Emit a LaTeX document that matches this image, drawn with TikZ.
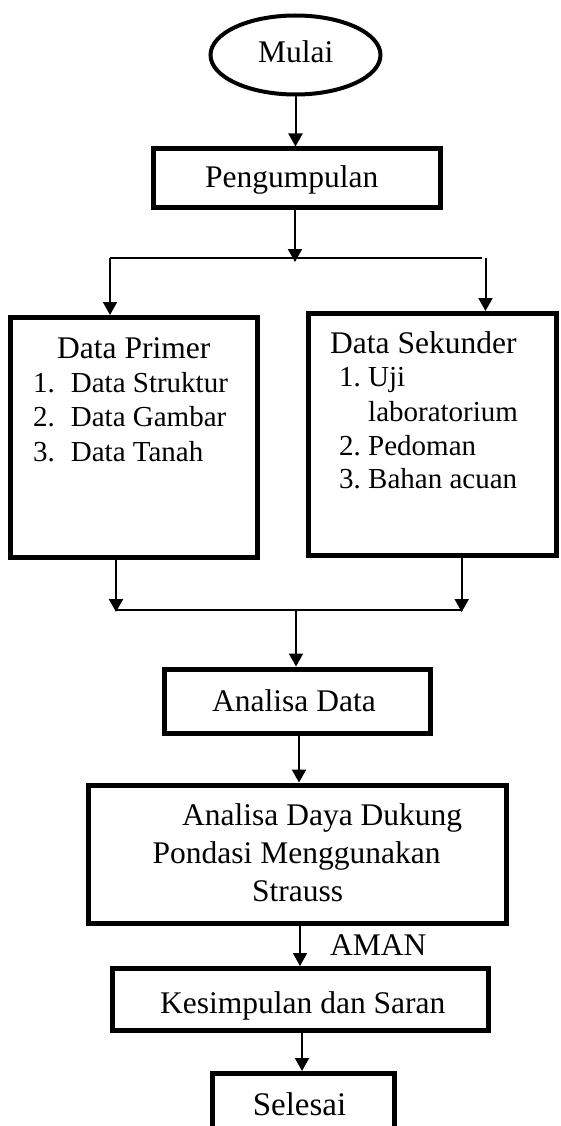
\documentclass[tikz,border=0pt]{standalone}
\usepackage{fontspec}
\setmainfont{Liberation Serif}
\usetikzlibrary{arrows.meta,shapes.geometric}
\tikzset{
  boxst/.style={draw, rectangle, line width=5pt, inner sep=0pt},
  ovalst/.style={draw, ellipse, line width=4pt, inner sep=0pt},
  txt/.style={inner sep=0pt, anchor=base west, font=\fontsize{31.5}{34}\selectfont},
  txts/.style={inner sep=0pt, anchor=base west, font=\fontsize{29}{34}\selectfont},
  arr/.style={line width=2pt, -{Triangle[length=13pt,width=14pt]}},
  ln/.style={line width=1.6pt},
}
\begin{document}
\begin{tikzpicture}[x=1pt,y=-1pt]
\useasboundingbox (0,0) rectangle (560,1126);
\clip (0,0) rectangle (560,1126);
% shapes
\node[ovalst, minimum width=170pt, minimum height=79pt] (mulai) at (295.5,55) {};
\node[boxst, minimum width=287pt, minimum height=58.5pt] (peng) at (296.5,178.25) {};
\node[boxst, minimum width=246.7pt, minimum height=240pt] (prim) at (134.15,437.5) {};
\node[boxst, minimum width=247.5pt, minimum height=241.5pt] (sek) at (432.25,434.25) {};
\node[boxst, minimum width=266.5pt, minimum height=64.5pt] (ad) at (297.25,701.25) {};
\node[boxst, minimum width=417.8pt, minimum height=138.3pt] (big) at (297.3,854.2) {};
\node[boxst, minimum width=376pt, minimum height=62pt] (kes) at (300.5,999.5) {};
\node[boxst, minimum width=181.5pt, minimum height=62pt] (sel) at (303.25,1104.5) {};
% texts
\node[txt] (tmulai) at (258,63) {Mulai};
\node[txt] (tpeng) at (205,188) {Pengumpulan};
\node[txt] (tprim) at (57,358.3) {Data Primer};
\node[txts] (p1n) at (33,392.7) {1.};
\node[txts] (p1) at (70.7,392.7) {Data Struktur};
\node[txts] (p2n) at (33,426.7) {2.};
\node[txts] (p2) at (70.7,426.7) {Data Gambar};
\node[txts] (p3n) at (33,461) {3.};
\node[txts] (p3) at (70.7,461) {Data Tanah};
\node[txt] (tsek) at (330,353.3) {Data Sekunder};
\node[txts] (s1n) at (339,386.7) {1.};
\node[txts] (s1) at (368,386.7) {Uji};
\node[txts] (s1b) at (368,421.7) {laboratorium};
\node[txts] (s2n) at (339,455) {2.};
\node[txts] (s2) at (368,455) {Pedoman};
\node[txts] (s3n) at (339,488.3) {3.};
\node[txts] (s3) at (368,488.3) {Bahan acuan};
\node[txt] (tad) at (212,711) {Analisa Data};
\node[txt] (tb1) at (182,825) {Analisa Daya Dukung};
\node[txt] (tb2) at (152.5,863.3) {Pondasi Menggunakan};
\node[txt] (tb3) at (252,901.7) {Strauss};
\node[txt] (taman) at (330,955) {AMAN};
\node[txt] (tkes) at (160,1013) {Kesimpulan dan Saran};
\node[inner sep=0pt, anchor=base, font=\fontsize{33}{36}\selectfont] (tsel) at (299.5,1115) {Selesai};
% helper coordinates
\coordinate (xa) at (295.5,0);
\coordinate (xb) at (295,0);
\coordinate (sm) at (295,262);
\coordinate (sl) at (110,258);
\coordinate (sr) at (482,258);
\coordinate (srv) at (485.5,258);
\coordinate (xl) at (116,0);
\coordinate (xr) at (461.7,0);
\coordinate (jl) at (116,610);
\coordinate (jr) at (461.7,610);
\coordinate (jlt) at (116,612);
\coordinate (jrt) at (461.7,612);
\coordinate (jm) at (296,610);
\coordinate (xc) at (296,0);
\coordinate (xd) at (299,0);
\coordinate (xe) at (300,0);
\coordinate (xf) at (302,0);
% connectors
\draw[arr] (mulai.south -| xa) -- (peng.north -| xa);
\draw[arr] (peng.south -| xb) -- (sm);
\draw[ln] (sl) -- (sr);
\draw[arr] (sl) -- (sl |- prim.north);
\draw[arr] (srv) -- (srv |- sek.north);
\draw[arr] (prim.south -| xl) -- (jlt);
\draw[arr] (sek.south -| xr) -- (jrt);
\draw[ln] (jl) -- (jr);
\draw[arr] (jm) -- (ad.north -| xc);
\draw[arr] (ad.south -| xd) -- (big.north -| xd);
\draw[arr] (big.south -| xe) -- (kes.north -| xe);
\draw[arr] (kes.south -| xf) -- (sel.north -| xf);
\end{tikzpicture}
\end{document}
